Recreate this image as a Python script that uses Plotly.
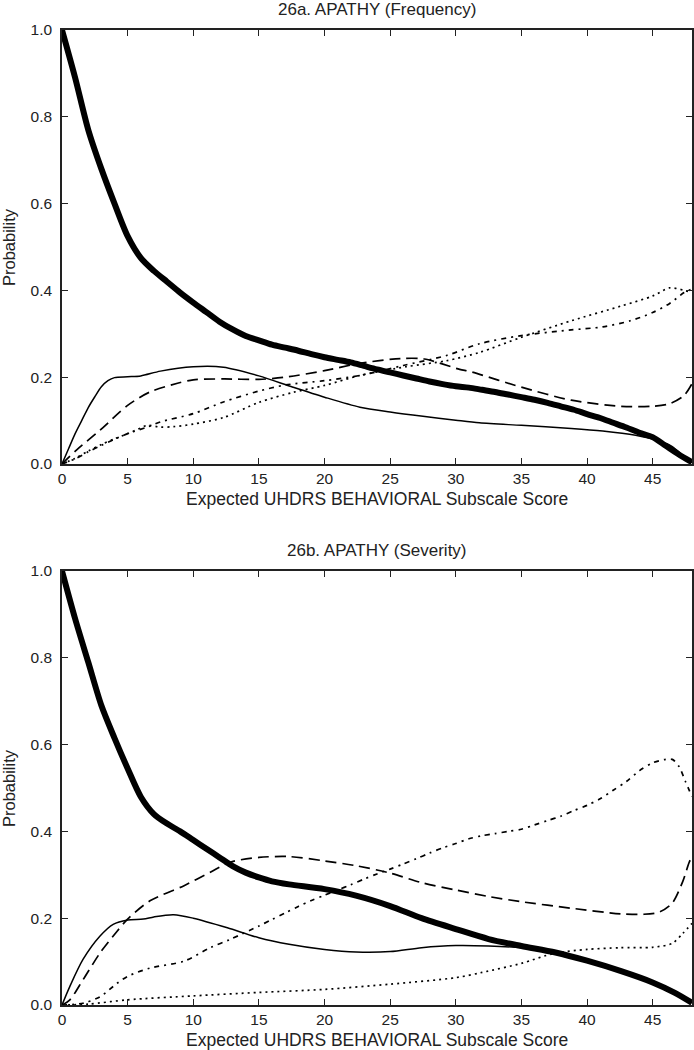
import plotly.graph_objects as go

# ---------------- data: 26a APATHY (Frequency) ----------------
freq_p0_x = [0, 1, 2, 3, 4, 5, 6, 7, 8, 9, 10, 11, 12, 13, 14, 15, 16, 17, 18, 19, 20, 21, 22, 23, 24, 25,
             26, 27, 28, 29, 30, 31, 32, 33, 34, 35, 36, 37, 38, 39, 40, 41, 42, 43, 44, 45, 46, 47, 48]
freq_p0_y = [1.0, 0.89, 0.77, 0.68, 0.60, 0.525, 0.475, 0.445, 0.42, 0.395, 0.372, 0.35, 0.328, 0.31, 0.295,
             0.285, 0.275, 0.268, 0.261, 0.253, 0.246, 0.24, 0.234, 0.226, 0.218, 0.211, 0.204, 0.197, 0.19,
             0.184, 0.179, 0.176, 0.171, 0.166, 0.16, 0.154, 0.148, 0.141, 0.133, 0.125, 0.115, 0.106, 0.095,
             0.084, 0.072, 0.062, 0.042, 0.022, 0.004]

freq_p1_x = [0, 0.5, 1, 1.5, 2, 2.5, 3, 3.5, 4, 5, 6, 7.5, 10, 12.3, 15, 17.6, 20, 22.7, 25, 27.5, 30, 31.8,
             35, 38.8, 41.2, 43.7, 45.5, 46.5, 47.4, 48]
freq_p1_y = [0.0, 0.035, 0.07, 0.10, 0.13, 0.155, 0.178, 0.192, 0.199, 0.201, 0.203, 0.214, 0.224, 0.223,
             0.203, 0.177, 0.154, 0.131, 0.12, 0.11, 0.101, 0.095, 0.089, 0.082, 0.076, 0.066, 0.053, 0.04,
             0.017, 0.003]

freq_p2_x = [0, 1.1, 2.9, 5, 6.7, 8.8, 10, 12.3, 15, 17, 20, 22.7, 25.8, 27.6, 30.3, 31.1, 35, 38.8, 42.6,
             45, 46.3, 47.4, 48]
freq_p2_y = [0.0, 0.032, 0.078, 0.135, 0.166, 0.186, 0.194, 0.196, 0.195, 0.2, 0.215, 0.232, 0.243, 0.242,
             0.218, 0.213, 0.177, 0.147, 0.133, 0.133, 0.139, 0.158, 0.185]

freq_p3_x = [0, 1, 2, 3, 4, 5, 6.5, 7.5, 10, 12.3, 15, 17, 20, 22.7, 26, 29.3, 31.8, 35, 38.8, 41.2, 43.3,
             45, 46.3, 47.4, 48]
freq_p3_y = [0.0, 0.012, 0.028, 0.043, 0.057, 0.07, 0.085, 0.097, 0.116, 0.143, 0.168, 0.182, 0.192, 0.204,
             0.227, 0.25, 0.277, 0.296, 0.309, 0.316, 0.33, 0.349, 0.37, 0.395, 0.403]

freq_p4_x = [0, 1, 2, 3, 4, 5, 6, 6.5, 7.5, 8.5, 10, 12.3, 15, 17.6, 20, 22.7, 26.2, 29.3, 31.8, 35, 38.8,
             42.6, 45, 46.3, 47.4, 48]
freq_p4_y = [0.0, 0.013, 0.03, 0.045, 0.058, 0.07, 0.083, 0.089, 0.085, 0.086, 0.092, 0.107, 0.142, 0.165,
             0.181, 0.204, 0.224, 0.238, 0.257, 0.292, 0.33, 0.364, 0.387, 0.406, 0.40, 0.395]

# ---------------- data: 26b APATHY (Severity) ----------------
sev_p0_x = [0, 1, 2, 3, 4, 5, 6, 7, 8, 9, 10, 11, 12, 13, 14, 15, 16, 17.3, 20, 22.4, 25, 27.4, 30, 32.5,
            35, 37.6, 40, 42.6, 45, 46.7, 48]
sev_p0_y = [1.0, 0.89, 0.79, 0.69, 0.615, 0.545, 0.48, 0.44, 0.418, 0.40, 0.38, 0.36, 0.34, 0.32, 0.305,
            0.294, 0.285, 0.278, 0.267, 0.252, 0.228, 0.2, 0.175, 0.152, 0.136, 0.121, 0.102, 0.078, 0.052,
            0.028, 0.005]

sev_p1_x = [0, 0.6, 1.6, 2.9, 3.9, 5, 6.2, 7, 8.5, 10, 12.6, 15, 17.3, 20, 22.4, 25, 27.4, 30, 32.5, 35,
            36, 37.6, 40, 42.6, 45, 46.7, 48]
sev_p1_y = [0.0, 0.043, 0.105, 0.159, 0.186, 0.196, 0.198, 0.203, 0.208, 0.2, 0.178, 0.155, 0.14, 0.128,
            0.122, 0.123, 0.132, 0.137, 0.136, 0.132, 0.128, 0.121, 0.102, 0.078, 0.052, 0.028, 0.005]

sev_p2_x = [0, 0.6, 1.6, 2.9, 4.2, 5, 6.7, 9.3, 11.3, 12.8, 15, 17.3, 20, 22.4, 25, 27.4, 30, 32.5, 35,
            38.8, 42.6, 44.3, 45.5, 46.5, 47.3, 47.8, 48]
sev_p2_y = [0.0, 0.012, 0.058, 0.12, 0.17, 0.198, 0.24, 0.275, 0.306, 0.329, 0.34, 0.342, 0.332, 0.321,
            0.304, 0.282, 0.265, 0.25, 0.238, 0.223, 0.21, 0.209, 0.214, 0.235, 0.285, 0.33, 0.34]

sev_p3_x = [0, 1.6, 2.9, 4.2, 5, 6.7, 9.3, 11.3, 12.8, 15, 16, 17, 18, 19, 20, 21, 22, 23, 24, 25, 26, 27,
            28, 29, 30, 31, 32, 33, 34, 35, 36, 37, 38, 39, 40, 41, 42, 43, 44, 45, 46, 46.5, 47, 47.5, 48]
sev_p3_y = [0.0, 0.004, 0.019, 0.05, 0.066, 0.085, 0.101, 0.132, 0.151, 0.182, 0.197, 0.212, 0.227, 0.241,
            0.253, 0.265, 0.277, 0.29, 0.302, 0.313, 0.325, 0.337, 0.35, 0.362, 0.372, 0.383, 0.39, 0.395,
            0.40, 0.405, 0.415, 0.425, 0.435, 0.448, 0.46, 0.475, 0.495, 0.515, 0.54, 0.558, 0.566, 0.566,
            0.55, 0.515, 0.48]

sev_p4_x = [0, 2, 5, 10, 15, 20, 25, 30, 32, 35, 37.5, 40, 42.5, 45, 46.5, 47.3, 48]
sev_p4_y = [0.0, 0.002, 0.012, 0.021, 0.029, 0.036, 0.048, 0.063, 0.075, 0.096, 0.119, 0.128, 0.132, 0.133,
            0.142, 0.165, 0.188]

x_tick_vals = [0, 5, 10, 15, 20, 25, 30, 35, 40, 45]
y_tick_vals = [0.0, 0.2, 0.4, 0.6, 0.8, 1.0]
x_title = "Expected UHDRS BEHAVIORAL Subscale Score"
y_title = "Probability"
titles = ["26a. APATHY (Frequency)", "26b. APATHY (Severity)"]

FONT = "Liberation Sans, Arial, sans-serif"
TXT = "#222"
styles = [
    dict(width=6, dash="solid"),
    dict(width=1.5, dash="solid"),
    dict(width=1.7, dash="11px,6px"),
    dict(width=1.7, dash="5px,5px,2px,5px"),
    dict(width=1.7, dash="2px,4px"),
]

fig = go.Figure()
panels = [
    ([(freq_p0_x, freq_p0_y), (freq_p1_x, freq_p1_y), (freq_p2_x, freq_p2_y), (freq_p3_x, freq_p3_y),
      (freq_p4_x, freq_p4_y)], "x", "y"),
    ([(sev_p0_x, sev_p0_y), (sev_p1_x, sev_p1_y), (sev_p2_x, sev_p2_y), (sev_p3_x, sev_p3_y),
      (sev_p4_x, sev_p4_y)], "x2", "y2"),
]
for series, xa, ya in panels:
    for i in [1, 2, 3, 4, 0]:
        xs, ys = series[i]
        fig.add_trace(go.Scatter(
            x=xs, y=ys, mode="lines", xaxis=xa, yaxis=ya, showlegend=False,
            line=dict(color="black", width=styles[i]["width"], dash=styles[i]["dash"],
                      shape="spline", smoothing=0.8),
            hoverinfo="skip"))

H_TOTAL = 1050
M_T, M_B = 30, 45
plot_h = H_TOTAL - M_T - M_B
top_dom = [(1005 - 464) / plot_h, 1.0]
bot_dom = [0.0, 434 / plot_h]

axis_common = dict(
    showline=True, linecolor=TXT, linewidth=1.5, mirror="ticks",
    ticks="inside", ticklen=6, tickwidth=1, tickcolor=TXT,
    showgrid=False, zeroline=False, automargin=False,
    tickfont=dict(family=FONT, size=15.5, color=TXT),
)

xax = dict(range=[0, 48], tickvals=x_tick_vals, **axis_common)
yax = dict(range=[0, 1.0], tickvals=y_tick_vals, tickformat=".1f", ticklabelstandoff=5, **axis_common)

annotations = []
for dom, ttl in [(top_dom, titles[0]), (bot_dom, titles[1])]:
    annotations.append(dict(text=ttl, xref="paper", yref="paper", x=0.5, y=dom[1], yshift=9,
                            showarrow=False, yanchor="bottom",
                            font=dict(size=17, family=FONT, color=TXT)))
    annotations.append(dict(text=x_title, xref="paper", yref="paper", x=0.5, y=dom[0], yshift=-35,
                            showarrow=False, yanchor="middle",
                            font=dict(size=17.5, family=FONT, color=TXT)))
    annotations.append(dict(text=y_title, xref="paper", yref="paper", x=0, xshift=-53,
                            y=(dom[0] + dom[1]) / 2, textangle=-90, showarrow=False,
                            xanchor="center", yanchor="middle",
                            font=dict(size=16.5, family=FONT, color=TXT)))

fig.update_layout(
    width=694, height=1050,
    margin=dict(l=62, r=2, t=M_T, b=M_B),
    paper_bgcolor="white", plot_bgcolor="white",
    font=dict(family=FONT, color=TXT),
    xaxis=dict(domain=[0, 1], anchor="y", **xax),
    yaxis=dict(domain=top_dom, anchor="x", **yax),
    xaxis2=dict(domain=[0, 1], anchor="y2", **xax),
    yaxis2=dict(domain=bot_dom, anchor="x2", **yax),
    annotations=annotations,
)
fig.write_html("out.html", config={"displayModeBar": False},
               post_script="document.body.style.margin='0px';")
